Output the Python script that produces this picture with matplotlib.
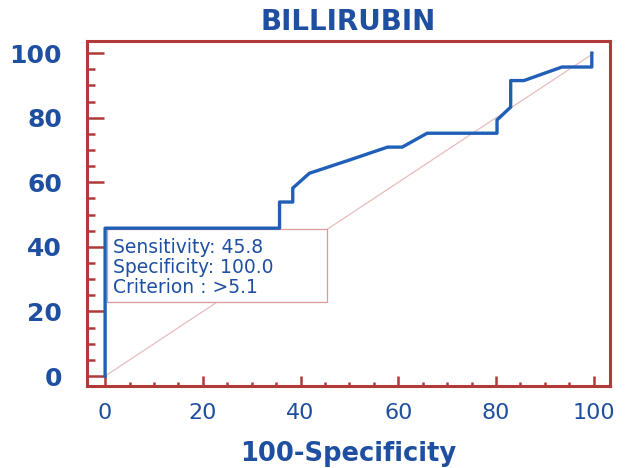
import matplotlib.pyplot as plt
from matplotlib.patches import Rectangle
from matplotlib.ticker import MultipleLocator

# ROC curve points
fpr = [0, 0, 35.7, 35.7, 38.4, 38.4, 41.8, 50.0, 57.8, 60.8, 65.9, 80.2, 80.2, 83.0, 83.0, 85.7, 93.5, 99.6, 99.6]
tpr = [0, 45.8, 45.8, 53.9, 53.9, 58.2, 62.8, 66.9, 70.9, 70.9, 75.2, 75.2, 79.3, 83.3, 91.5, 91.5, 95.7, 95.7, 100]

title = "BILLIRUBIN"
xlabel = "100-Specificity"
info_lines = ["Sensitivity: 45.8", "Specificity: 100.0", "Criterion : >5.1"]
ticks = [0, 20, 40, 60, 80, 100]

RED = '#b03a3a'
BLUE = '#1f5fb8'
TEXT_BLUE = '#1f4fa0'
PINK = '#e9bcbc'

fig = plt.figure(figsize=(6.32, 4.68), dpi=100)
ax = fig.add_axes([0.1377, 0.175, 0.8273, 0.737])

# chance diagonal
ax.plot([0, 100], [0, 100], color=PINK, linewidth=0.9, zorder=1)
# ROC curve
ax.plot(fpr, tpr, color=BLUE, linewidth=2.4, zorder=3)

# info box
ax.add_patch(Rectangle((0.4, 22.9), 45.1, 22.6, facecolor='white', edgecolor='#d99a9a',
                       linewidth=0.9, zorder=2))
ax.text(1.6, 42.8, "\n".join(info_lines), color=TEXT_BLUE, fontsize=13.5,
        va='top', ha='left', linespacing=1.08, zorder=4)

ax.set_xlim(-3.7, 103.3)
ax.set_ylim(-3.1, 103.7)
ax.set_xticks(ticks)
ax.set_yticks(ticks)
ax.xaxis.set_minor_locator(MultipleLocator(5))
ax.yaxis.set_minor_locator(MultipleLocator(5))

for s in ax.spines.values():
    s.set_color(RED)
    s.set_linewidth(2.2)

ax.tick_params(axis='both', which='both', direction='in', color=RED, width=1.8,
               top=False, right=False)
ax.tick_params(axis='y', which='major', length=12, labelsize=18, labelcolor=TEXT_BLUE, pad=18)
ax.tick_params(axis='y', which='minor', length=6)
ax.tick_params(axis='x', which='major', length=7, labelsize=16, labelcolor=TEXT_BLUE, pad=12)
ax.tick_params(axis='x', which='minor', length=3)
for lbl in ax.get_yticklabels():
    lbl.set_fontweight('bold')

ax.set_xlabel(xlabel, fontsize=18.5, fontweight='bold', color=TEXT_BLUE, labelpad=13)
ax.set_title(title, fontsize=20, fontweight='bold', color=TEXT_BLUE, pad=8)

fig.savefig('out.png', dpi=100)
